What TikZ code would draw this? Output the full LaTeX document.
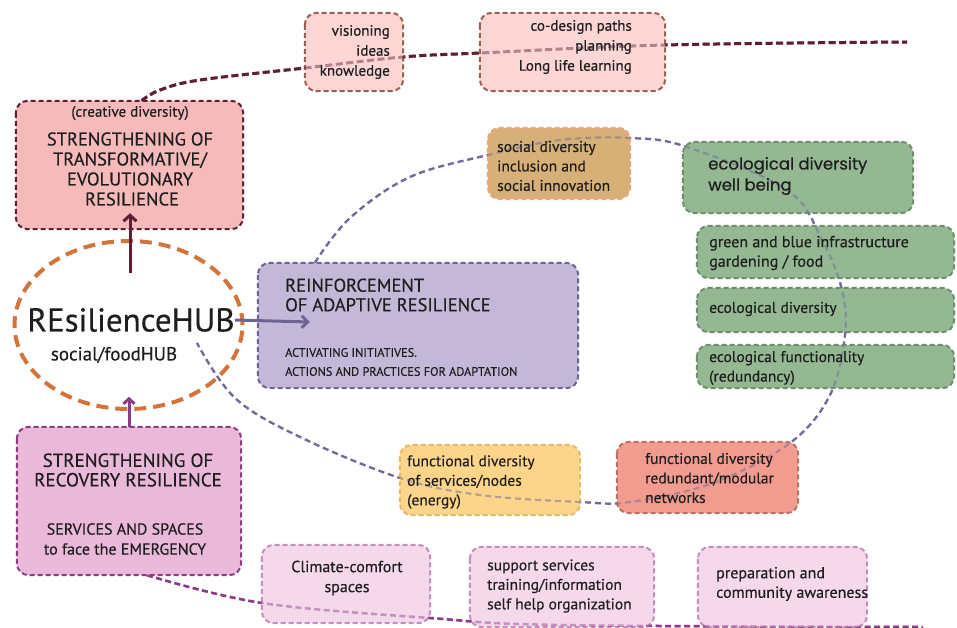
\documentclass[tikz,border=0pt]{standalone}
\usepackage{fontspec}
\setmainfont{PT Sans}[FakeBold=0.35]
\newfontfamily\geofont{Poppins}[FakeBold=0.5]
\usetikzlibrary{calc,arrows.meta,shapes.geometric}
\definecolor{maroon}{HTML}{5E1F35}
\definecolor{transfill}{HTML}{F6BABA}
\definecolor{visfill}{HTML}{FCD5D5}
\definecolor{visdraw}{HTML}{9A6050}
\definecolor{hubor}{HTML}{D4733A}
\definecolor{recfill}{HTML}{EAB8D8}
\definecolor{recdraw}{HTML}{8B3A88}
\definecolor{adfill}{HTML}{C4B8D8}
\definecolor{addraw}{HTML}{6F6393}
\definecolor{loopc}{HTML}{6F6A9A}
\definecolor{socfill}{HTML}{D7B077}
\definecolor{socdraw}{HTML}{EBA583}
\definecolor{grfill}{HTML}{93B892}
\definecolor{grdraw}{HTML}{6F8E6D}
\definecolor{redfill}{HTML}{F29C90}
\definecolor{reddraw}{HTML}{B87260}
\definecolor{yelfill}{HTML}{FDD58A}
\definecolor{yeldraw}{HTML}{E3BA63}
\definecolor{botfill}{HTML}{F5D8E9}
\definecolor{botdraw}{HTML}{C48DBE}
\definecolor{txtc}{HTML}{1E1E1E}
\begin{document}
\begin{tikzpicture}[x=1pt,y=-1pt,
  boxbase/.style={rectangle, inner sep=0pt},
  txt/.style={text=txtc, inner sep=0pt, font=\fontsize{15.5}{19.5}\selectfont},
  lt/.style={txt, align=left, anchor=west},
  rt/.style={txt, align=right, anchor=east},
  ct/.style={txt, align=center, anchor=center},
  conn/.style={line width=2pt, line cap=butt},
  topln/.style={conn, maroon, line width=3pt, dash pattern=on 7pt off 3.5pt},
  loopln/.style={conn, loopc, line width=2.2pt, dash pattern=on 6pt off 4pt},
  botln/.style={conn, recdraw, line width=2.5pt, dash pattern=on 6pt off 3.5pt}
]
\path[fill=white] (0,0) rectangle (957,628);
\useasboundingbox (0,0) rectangle (957,628);

% ---------- box nodes ----------
\path
 node[boxbase, minimum width=227pt, minimum height=128pt] (trans) at (129.5,165) {}
 node[boxbase, minimum width=224pt, minimum height=148pt] (rec) at (129,501) {}
 node[boxbase, minimum width=320pt, minimum height=125pt] (adapt) at (418,325.5) {}
 node[boxbase, minimum width=98pt, minimum height=78pt] (vis) at (354,52) {}
 node[boxbase, minimum width=185pt, minimum height=78pt] (codes) at (572.5,52) {}
 node[boxbase, minimum width=142pt, minimum height=71pt] (soc) at (559,163.5) {}
 node[boxbase, minimum width=230pt, minimum height=71pt] (ecow) at (798,177.5) {}
 node[boxbase, minimum width=257pt, minimum height=52pt] (gb) at (825.5,252) {}
 node[boxbase, minimum width=257pt, minimum height=44pt] (ecod) at (825.5,310) {}
 node[boxbase, minimum width=257pt, minimum height=43pt] (ecof) at (825.5,366.5) {}
 node[boxbase, minimum width=181pt, minimum height=71pt] (red) at (707.5,477.5) {}
 node[boxbase, minimum width=180pt, minimum height=70pt] (yel) at (490,480) {}
 node[boxbase, minimum width=168pt, minimum height=78pt] (clim) at (346,584) {}
 node[boxbase, minimum width=184pt, minimum height=80pt] (sup) at (562,587) {}
 node[boxbase, minimum width=169pt, minimum height=80pt] (prep) at (782.5,587) {};

\coordinate (topend) at (907,42);
\coordinate (loopend) at (197,343);
\coordinate (botend) at (923,627);
\def\toppath{plot[smooth, tension=0.6] coordinates {($(trans.north)+(12,0)$) (160,90) (200,80) (305,68) (403,57) (480,53) (665,45) (topend)}}
\def\looppath{plot[smooth, tension=0.6] coordinates {($(adapt.north west)+(57,0)$) (350,218) (410,177) (488,155) (560,140) (630,138) (687,147) (787,190) (822,240) (842,290) (845,335) (830,395) (790,443) (713,483) (630,502) (580,502) (480,495) (400,478) (300,437) (235,398) (loopend)}}
\def\botpath{plot[smooth, tension=0.6] coordinates {($(rec.south)+(18,0)$) (262,603) (430,618) (560,625) (botend)}}

% ---------- connector curves (behind boxes) ----------
\draw[topln] \toppath;
\draw[loopln] \looppath;
\draw[botln] \botpath;

% ---------- boxes ----------
\foreach \n/\f/\d in {trans/transfill/maroon, rec/recfill/recdraw, adapt/adfill/addraw,
  vis/visfill/visdraw, codes/visfill/visdraw, soc/socfill/socdraw, ecow/grfill/grdraw,
  gb/grfill/grdraw, ecod/grfill/grdraw, ecof/grfill/grdraw, red/redfill/reddraw,
  yel/yelfill/yeldraw, clim/botfill/botdraw, sup/botfill/botdraw, prep/botfill/botdraw}
  {\draw[line width=2pt, dash pattern=on 5pt off 3pt, draw=\d, fill=\f, rounded corners=12pt]
     (\n.north west) rectangle (\n.south east);}

% ---------- curves seen through the boxes ----------
\draw[topln, opacity=0.45] \toppath;
\draw[loopln, opacity=0.5] \looppath;
\draw[botln, opacity=0.45] \botpath;

% ---------- hub ellipse ----------
\node[draw=hubor, line width=4pt, dash pattern=on 12pt off 7pt, ellipse, minimum width=228pt, minimum height=168pt, inner sep=0pt] (hub) at (128.5,325) {};
\node[txt, font=\fontsize{33}{36}\selectfont, anchor=center] (hubt) at (131,320) {REsilienceHUB};
\node[txt, font=\fontsize{19}{22}\selectfont, anchor=center] (hubs) at (114,355) {social/foodHUB};

% ---------- arrows ----------
\draw[maroon, line width=3pt, -{Straight Barb[length=6pt,width=13pt,line width=3pt]}] ($(trans.south)+(0.5,44)$) -- ($(trans.south)+(0.5,-16)$);
\draw[recdraw, line width=3pt, -{Straight Barb[length=5pt,width=11pt,line width=3pt]}] (rec.north) -- ($(rec.north)+(0,-30)$);
\draw[addraw, line width=3pt, -{Straight Barb[length=6pt,width=12pt,line width=3pt]}] (hubt.east) -- ($(adapt.west)+(52,-3.5)$);

% ---------- texts ----------
\node[ct, font=\fontsize{15}{17}\selectfont] (tr0) at (130,113) {(creative diversity)};
\node[ct, font=\fontsize{18.5}{20}\selectfont] (tr1) at (130,169) {STRENGTHENING OF\\TRANSFORMATIVE/\\EVOLUTIONARY\\\hspace*{4pt}RESILIENCE};
\node[ct, font=\fontsize{19}{19.5}\selectfont] (rc1) at (128,470) {STRENGTHENING OF\\RECOVERY RESILIENCE};
\node[ct, font=\fontsize{16}{20}\selectfont] (rc2) at (125,539) {SERVICES AND SPACES\\to face the EMERGENCY};
\node[lt, font=\fontsize{18.5}{19.5}\selectfont] (ad1) at (285,295) {REINFORCEMENT\\OF ADAPTIVE RESILIENCE};
\node[lt, font=\fontsize{12.3}{19}\selectfont] (ad2) at (285,362) {ACTIVATING INITIATIVES.\\ACTIONS AND PRACTICES FOR ADAPTATION};
\node[rt, font=\fontsize{15}{20}\selectfont] (vt) at (390,52) {visioning\\ideas\\knowledge};
\node[rt, font=\fontsize{15}{20}\selectfont] (ct1) at (632,47) {co-design paths\\planning\\Long life learning};
\node[lt] (st) at (497,166) {social diversity\\inclusion and\\social innovation};
\node[lt, font=\fontsize{16.5}{21}\geofont] (ew) at (708,176) {ecological diversity\\well being};
\node[lt, font=\fontsize{16}{19.5}\selectfont] (gbt) at (709,253) {green and blue infrastructure\\gardening / food};
\node[lt] (edt) at (709,309) {ecological diversity};
\node[lt] (eft) at (709,368) {ecological functionality\\(redundancy)};
\node[lt] (rdt) at (645,478) {functional diversity\\redundant/modular\\networks};
\node[lt] (ylt) at (407,482) {functional diversity\\of services/nodes\\(energy)};
\node[ct, font=\fontsize{16}{20}\selectfont] (clt) at (347,578) {Climate-comfort\\spaces};
\node[lt] (spt) at (487,586) {support services\\training/information\\self help organization};
\node[lt, font=\fontsize{16}{19.5}\selectfont] (prt) at (716,584) {preparation and\\community awareness};
\end{tikzpicture}
\end{document}
